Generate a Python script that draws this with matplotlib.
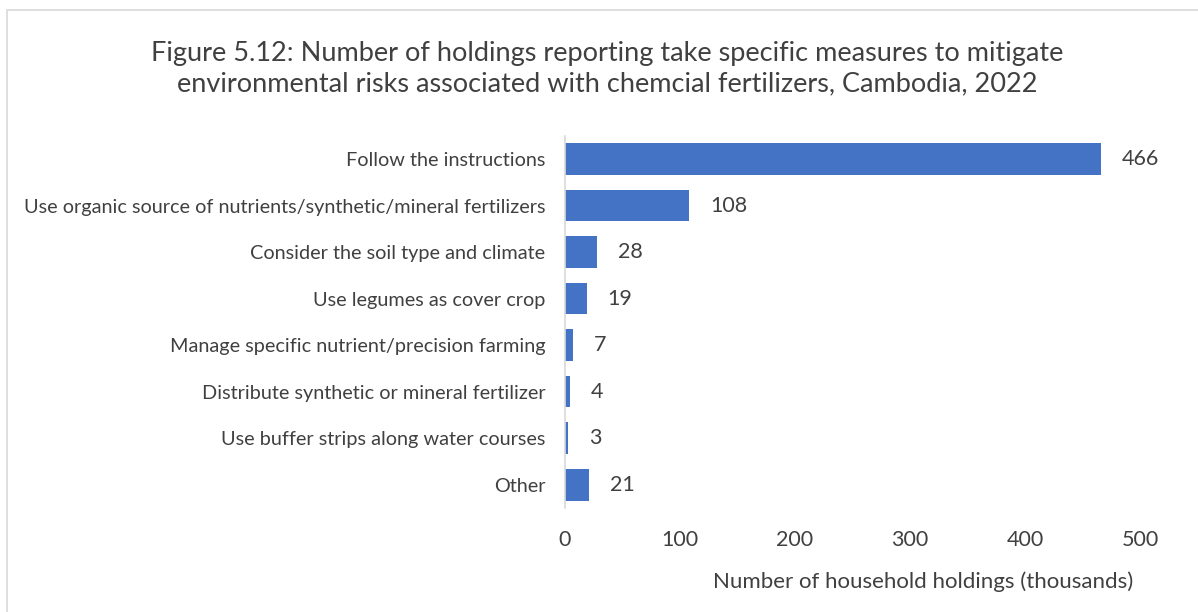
import matplotlib.pyplot as plt
from matplotlib.patches import Rectangle

# Holdings (thousands) taking each measure, top to bottom
measures = [
    "Follow the instructions",
    "Use organic source of nutrients/synthetic/mineral fertilizers",
    "Consider the soil type and climate",
    "Use legumes as cover crop",
    "Manage specific nutrient/precision farming",
    "Distribute synthetic or mineral fertilizer",
    "Use buffer strips along water courses",
    "Other",
]
holdings = [466, 108, 28, 19, 7, 4, 3, 21]
x_ticks = [0, 100, 200, 300, 400, 500]

BAR_COLOR = "#4472C4"
TEXT_COLOR = "#404040"

plt.rcParams["font.family"] = ["Lato", "DejaVu Sans"]

fig = plt.figure(figsize=(11.98, 6.12), dpi=100)
ax = fig.add_axes([0.4716, 0.170, 0.480, 0.608])

# chart frame
fig.patches.append(Rectangle((0.006, -0.01), 1.2, 0.994, transform=fig.transFigure,
                             fill=False, edgecolor="#D9D9D9", linewidth=1.2))

y = list(range(len(measures)))
ax.barh(y, holdings, height=0.68, color=BAR_COLOR, zorder=2)
for yi, v in zip(y, holdings):
    ax.annotate(f"{v}", (v, yi), xytext=(15, 0), textcoords="offset points",
                va="center", ha="left", fontsize=15.5, color=TEXT_COLOR)

ax.set_ylim(len(measures) - 0.5, -0.5)
ax.set_xlim(0, 500)
ax.set_xticks(x_ticks)
ax.set_yticks(y)
ax.set_yticklabels(measures)
ax.tick_params(axis="both", length=0, colors=TEXT_COLOR)
ax.tick_params(axis="x", pad=16, labelsize=15.5)
ax.tick_params(axis="y", pad=14, labelsize=14.3)

for side in ["top", "right", "bottom"]:
    ax.spines[side].set_visible(False)
ax.spines["left"].set_color("#D9D9D9")
ax.spines["left"].set_linewidth(1.2)

ax.set_xlabel("Number of household holdings (thousands)", fontsize=16,
              color=TEXT_COLOR, labelpad=12)
ax.xaxis.set_label_coords(0.988, -0.17)
ax.xaxis.label.set_ha("right")

fig.text(0.507, 0.888,
         "Figure 5.12: Number of holdings reporting take specific measures to mitigate\n"
         "environmental risks associated with chemcial fertilizers, Cambodia, 2022",
         ha="center", va="center", fontsize=19.5, color=TEXT_COLOR, linespacing=1.3)

fig.savefig("out.png", dpi=100)
